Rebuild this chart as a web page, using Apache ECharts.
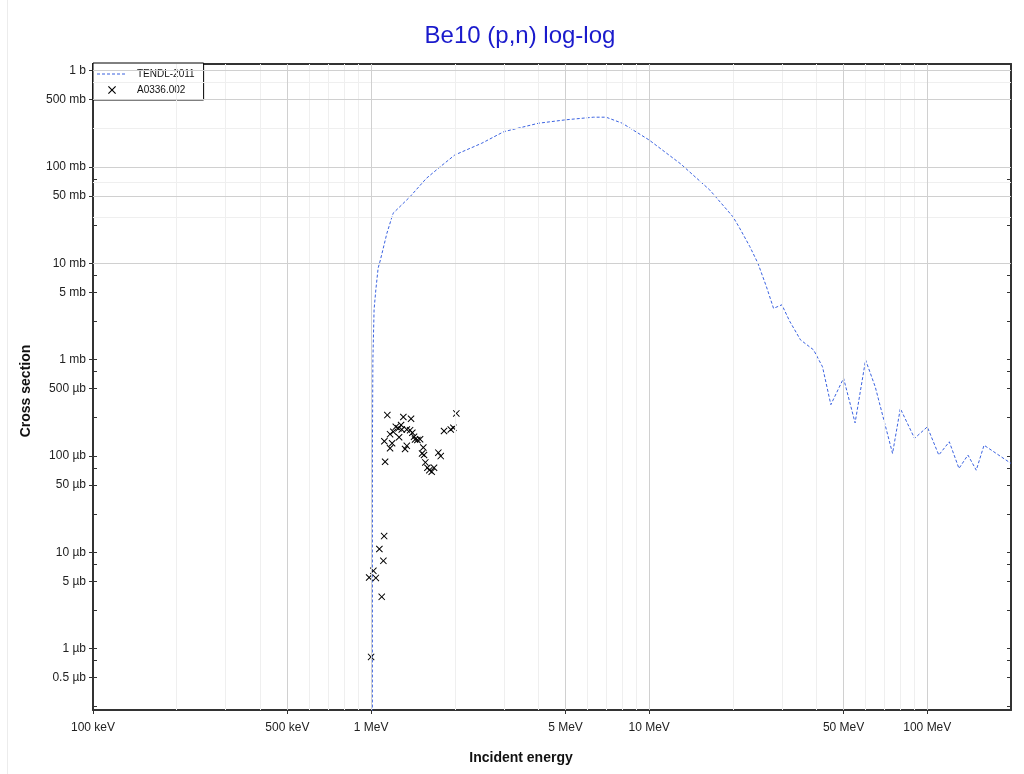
<!DOCTYPE html>
<html>
<head>
<meta charset="utf-8">
<title>Be10 (p,n) log-log</title>
<script src="https://cdn.jsdelivr.net/npm/echarts@6/dist/echarts.min.js"></script>
<style>
  html, body { margin: 0; padding: 0; background: #ffffff; }
  #chart { width: 1024px; height: 774px; }
</style>
</head>
<body>
<div id="chart"></div>
<script>
// TENDL-2011 evaluation: incident energy (MeV) and cross section (b)
const tendlEnergy = [
  1.01, 1.011, 1.015, 1.025, 1.04, 1.06, 1.08, 1.14, 1.2, 1.38, 1.58, 1.77, 2, 2.5, 3, 4, 5,
  6.3, 7, 8, 10, 13, 16.5, 20, 21, 23, 24.6, 26.4, 28, 30, 32, 35, 39, 42, 45, 50, 55, 60, 65,
  75, 80, 90, 100, 110, 120, 130, 140, 150, 160, 200
];
const tendlXs = [
  1e-9, 1.2e-4, 9.9e-4, 3.3e-3, 5.3e-3, 8.9e-3, 0.0108, 0.0205, 0.033, 0.049, 0.076, 0.1, 0.133,
  0.176, 0.232, 0.284, 0.308, 0.328, 0.328, 0.284, 0.19, 0.107, 0.0577, 0.0304, 0.024, 0.0149,
  0.01, 0.0057, 0.0034, 0.0037, 0.0025, 0.0016, 0.00126, 0.00084, 0.00034, 0.00064, 0.00022,
  0.00099, 0.00052, 0.000106, 0.00031, 0.000152, 0.0002, 0.000102, 0.00014, 7.4e-5, 0.000102,
  7.1e-5, 0.000129, 8.35e-5
];

// EXFOR A0336.002 measurement: incident energy (MeV) and cross section (b)
const expEnergy = [
  1.0, 0.984, 1.019, 1.04, 1.071, 1.092, 1.107, 1.114, 1.116, 1.123, 1.144, 1.17, 1.17, 1.19,
  1.202, 1.227, 1.254, 1.261, 1.282, 1.289, 1.306, 1.325, 1.344, 1.344, 1.381, 1.392, 1.407,
  1.427, 1.439, 1.467, 1.5, 1.525, 1.541, 1.55, 1.567, 1.594, 1.62, 1.652, 1.684, 1.745, 1.78,
  1.829, 1.934, 1.976, 2.025
];
const expXs = [
  0.818e-6, 5.46e-6, 6.4e-6, 5.41e-6, 10.8e-6, 3.44e-6, 8.13e-6, 14.7e-6, 142e-6, 86.8e-6,
  265e-6, 168e-6, 120e-6, 135e-6, 178e-6, 200e-6, 193e-6, 156e-6, 209e-6, 188e-6, 253e-6,
  118e-6, 188e-6, 127e-6, 185e-6, 243e-6, 174e-6, 158e-6, 148e-6, 146e-6, 149e-6, 106e-6,
  122e-6, 102e-6, 85.5e-6, 75.2e-6, 71.1e-6, 68.3e-6, 75.2e-6, 108e-6, 99.4e-6, 181e-6,
  188e-6, 196e-6, 276e-6
];

// Axis ranges
const xRange = [0.1, 200];
const yRange = [2.3e-7, 1.17];

// Labelled ticks
const xTickValues = [0.1, 0.5, 1, 5, 10, 50, 100];
const xTickLabels = ['100 keV', '500 keV', '1 MeV', '5 MeV', '10 MeV', '50 MeV', '100 MeV'];
const xMinorValues = [0.2, 0.3, 0.4, 0.6, 0.7, 0.8, 0.9, 2, 3, 4, 6, 7, 8, 9,
                      20, 30, 40, 60, 70, 80, 90, 200];
const yTickValues = [1, 0.5, 0.1, 0.05, 0.01, 0.005, 0.001, 5e-4, 1e-4, 5e-5, 1e-5, 5e-6, 1e-6, 5e-7];
const yTickLabels = ['1 b', '500 mb', '100 mb', '50 mb', '10 mb', '5 mb', '1 mb',
                     '500 µb', '100 µb', '50 µb', '10 µb', '5 µb', '1 µb', '0.5 µb'];
const yMinorValues = [0.75, 0.25, 0.075, 0.025, 0.0075, 0.0025, 7.5e-4, 2.5e-4,
                      7.5e-5, 2.5e-5, 7.5e-6, 2.5e-6, 7.5e-7, 2.5e-7];

const FONT = '"Liberation Sans", Arial, Helvetica, sans-serif';
const CROSS = 'path://M0,1L1,0L5,4L9,0L10,1L6,5L10,9L9,10L5,6L1,10L0,9L4,5Z';
// dashed stroke used as the legend key of the evaluation curve
const DASH_KEY = 'path://M0,0h3v1h-3zM5,0h3v1h-3zM10,0h3v1h-3zM15,0h3v1h-3zM20,0h3v1h-3zM25,0h3v1h-3zM30,0h0v1h0z';
const LINE_COLOR = '#3a62e0';

function labelLookup(values, labels) {
  return function (v) {
    for (let i = 0; i < values.length; i++) {
      if (Math.abs(Math.log10(v / values[i])) < 1e-6) return labels[i];
    }
    return '';
  };
}

const inRange = (r) => (v) => v > r[0] * 1.0001 && v < r[1] / 1.0001;
const xAllTicks = xTickValues.concat(xMinorValues).filter(v => v >= xRange[0] && v <= xRange[1]);
const yAllTicks = yTickValues.concat(yMinorValues).filter(v => v >= yRange[0] && v <= yRange[1]);

// Grid lines: darker at 1 and 5 per decade, pale at the rest
const gridLines = []
  .concat(xMinorValues.filter(inRange(xRange)).map(v => ({ xAxis: v, lineStyle: { color: '#efefef', width: 1, type: 'solid' } })))
  .concat(yMinorValues.filter(inRange(yRange)).map(v => ({ yAxis: v, lineStyle: { color: '#efefef', width: 1, type: 'solid' } })))
  .concat(xTickValues.filter(inRange(xRange)).map(v => ({ xAxis: v, lineStyle: { color: '#d0d0d0', width: 1, type: 'solid' } })))
  .concat(yTickValues.filter(inRange(yRange)).map(v => ({ yAxis: v, lineStyle: { color: '#d0d0d0', width: 1, type: 'solid' } })));

const AXIS_COLOR = '#333333';

function logAxis(range, extra) {
  return Object.assign({
    type: 'log', logBase: 10, min: range[0], max: range[1],
    splitLine: { show: false }, minorTick: { show: false }, minorSplitLine: { show: false },
    axisPointer: { show: false }, silent: true
  }, extra);
}

const option = {
  animation: false,
  backgroundColor: '#ffffff',
  grid: { left: 93, right: 13, top: 64, bottom: 64, containLabel: false },
  xAxis: [
    logAxis(xRange, {
      position: 'bottom',
      axisLine: { show: true, onZero: false, lineStyle: { color: AXIS_COLOR, width: 2 } },
      axisTick: { show: true, inside: false, length: 4, customValues: xTickValues, lineStyle: { color: AXIS_COLOR } },
      axisLabel: { show: true, customValues: xTickValues, formatter: labelLookup(xTickValues, xTickLabels),
                   margin: 12, fontSize: 12, color: '#222', fontFamily: FONT }
    }),
    logAxis(xRange, {
      position: 'bottom',
      axisLine: { show: false },
      axisTick: { show: true, inside: true, length: 4, customValues: xAllTicks, lineStyle: { color: AXIS_COLOR } },
      axisLabel: { show: false }
    }),
    logAxis(xRange, {
      position: 'top',
      axisLine: { show: true, onZero: false, lineStyle: { color: AXIS_COLOR, width: 2 } },
      axisTick: { show: true, inside: true, length: 4, customValues: xAllTicks, lineStyle: { color: AXIS_COLOR } },
      axisLabel: { show: false }
    })
  ],
  yAxis: [
    logAxis(yRange, {
      position: 'left',
      axisLine: { show: true, onZero: false, lineStyle: { color: AXIS_COLOR, width: 2 } },
      axisTick: { show: true, inside: false, length: 4, customValues: yTickValues, lineStyle: { color: AXIS_COLOR } },
      axisLabel: { show: true, customValues: yTickValues, formatter: labelLookup(yTickValues, yTickLabels),
                   margin: 7, fontSize: 12, color: '#222', fontFamily: FONT }
    }),
    logAxis(yRange, {
      position: 'left',
      axisLine: { show: false },
      axisTick: { show: true, inside: true, length: 4, customValues: yAllTicks, lineStyle: { color: AXIS_COLOR } },
      axisLabel: { show: false }
    }),
    logAxis(yRange, {
      position: 'right',
      axisLine: { show: true, onZero: false, lineStyle: { color: AXIS_COLOR, width: 2 } },
      axisTick: { show: true, inside: true, length: 4, customValues: yAllTicks, lineStyle: { color: AXIS_COLOR } },
      axisLabel: { show: false }
    })
  ],
  legend: {
    orient: 'vertical',
    left: 93, top: 63,
    data: [
      { name: 'TENDL-2011', icon: DASH_KEY, itemStyle: { color: LINE_COLOR } },
      { name: 'A0336.002', icon: CROSS }
    ],
    symbolKeepAspect: true,
    backgroundColor: '#ffffff',
    borderColor: '#000000', borderWidth: 1, borderRadius: 0,
    padding: [6, 9, 5, 4],
    itemWidth: 30, itemHeight: 8, itemGap: 6,
    textStyle: { fontSize: 10, color: '#111', fontFamily: FONT, padding: [0, 0, 0, 5] },
    selectedMode: false
  },
  graphic: [
    // faint page edge on the left
    { type: 'line', shape: { x1: 7.5, y1: 0, x2: 7.5, y2: 774 }, style: { stroke: '#ececec', lineWidth: 1 }, silent: true },
    { type: 'text', x: 520, y: 36, style: { text: 'Be10 (p,n) log-log', fill: '#1a1acc', fontSize: 24, fontFamily: FONT, align: 'center', verticalAlign: 'middle' } },
    { type: 'text', x: 521, y: 758, style: { text: 'Incident energy', fill: '#111', fontSize: 14, fontWeight: 'bold', fontFamily: FONT, align: 'center', verticalAlign: 'middle' } },
    { type: 'text', x: 26, y: 391, rotation: Math.PI / 2, style: { text: 'Cross section', fill: '#111', fontSize: 14, fontWeight: 'bold', fontFamily: FONT, align: 'center', verticalAlign: 'middle' } }
  ],
  series: [
    {
      name: 'gridlines',
      type: 'line',
      data: [],
      silent: true,
      z: 1,
      markLine: { silent: true, symbol: ['none', 'none'], label: { show: false }, animation: false, data: gridLines }
    },
    {
      name: 'TENDL-2011',
      type: 'line',
      data: tendlEnergy.map((e, i) => [e, tendlXs[i]]),
      showSymbol: false,
      symbol: 'none',
      clip: true,
      z: 3,
      itemStyle: { color: LINE_COLOR },
      lineStyle: { color: LINE_COLOR, width: 1, type: [3, 2] }
    },
    {
      name: 'A0336.002',
      type: 'scatter',
      data: expEnergy.map((e, i) => [e, expXs[i]]),
      symbol: CROSS,
      symbolSize: 7,
      symbolKeepAspect: true,
      z: 4,
      itemStyle: { color: '#000000', opacity: 1 }
    }
  ]
};

const chart = echarts.init(document.getElementById('chart'), null, { renderer: 'canvas' });
chart.setOption(option);
</script>
</body>
</html>
